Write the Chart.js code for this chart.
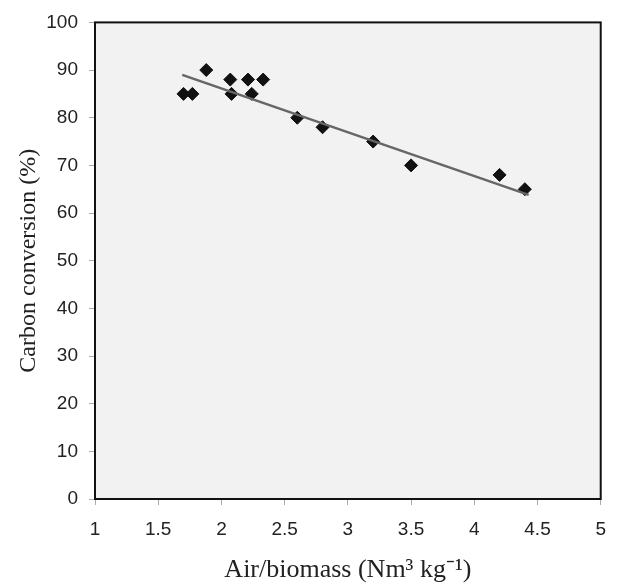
<!DOCTYPE html>
<html>
<head>
<meta charset="utf-8">
<script src="https://cdn.jsdelivr.net/npm/chart.js@4"></script>
<style>
  html, body { margin: 0; padding: 0; background: #ffffff; }
  canvas { display: block; }
</style>
</head>
<body>
<canvas id="c" width="619" height="585"></canvas>
<script>
// Data
const airBiomass = [1.7, 1.77, 1.88, 2.07, 2.08, 2.21, 2.24, 2.33, 2.6, 2.8, 3.2, 3.5, 4.2, 4.4];
const carbonConversion = [85, 85, 90, 88, 85, 88, 85, 88, 80, 78, 75, 70, 68, 65];
const trendX = [1.69, 4.43];
const trendY = [89, 63.8];
const xTicks = [1, 1.5, 2, 2.5, 3, 3.5, 4, 4.5, 5];
const yTicks = [0, 10, 20, 30, 40, 50, 60, 70, 80, 90, 100];

const points = airBiomass.map((x, i) => ({ x: x, y: carbonConversion[i] }));
const trend = trendX.map((x, i) => ({ x: x, y: trendY[i] }));

const framePlugin = {
  id: 'frame',
  beforeDatasetsDraw(chart) {
    const { ctx, chartArea: a } = chart;
    ctx.save();
    ctx.fillStyle = '#f2f2f2';
    ctx.fillRect(a.left, a.top, a.right - a.left, a.bottom - a.top);
    ctx.restore();
  },
  afterDatasetsDraw(chart) {
    const { ctx, chartArea: a } = chart;
    ctx.save();
    ctx.strokeStyle = '#111111';
    ctx.lineWidth = 2;
    ctx.strokeRect(a.left, a.top, a.right - a.left, a.bottom - a.top);
    ctx.restore();
  }
};

new Chart(document.getElementById('c'), {
  type: 'scatter',
  data: {
    datasets: [
      {
        type: 'line',
        data: trend,
        borderColor: '#666666',
        borderWidth: 2.5,
        pointRadius: 0,
        fill: false,
        tension: 0
      },
      {
        data: points,
        pointStyle: 'rectRot',
        pointRadius: 6.5,
        pointHoverRadius: 6.5,
        backgroundColor: '#111111',
        borderColor: '#111111',
        borderWidth: 1
      }
    ]
  },
  options: {
    responsive: false,
    animation: false,
    events: [],
    layout: { padding: { left: 0, top: 17, right: 14, bottom: 0 } },
    plugins: { legend: { display: false }, tooltip: { enabled: false } },
    scales: {
      x: {
        type: 'linear',
        min: 1,
        max: 5,
        afterBuildTicks(s) { s.ticks = xTicks.map(v => ({ value: v })); },
        afterFit(s) { s.height = 86; },
        border: { display: false },
        grid: { drawOnChartArea: false, drawTicks: true, tickLength: 6, tickColor: '#aaaaaa', lineWidth: 1 },
        ticks: {
          color: '#222222',
          padding: 13,
          maxRotation: 0,
          callback: (v) => String(v),
          font: { family: '"Liberation Sans", Arial, sans-serif', size: 19 }
        },
        title: {
          display: true,
          text: 'Air/biomass (Nm³ kg⁻¹)',
          color: '#222222',
          padding: { top: 0, bottom: 2 },
          font: { family: '"Liberation Serif", "Times New Roman", serif', size: 26, lineHeight: 1 }
        }
      },
      y: {
        type: 'linear',
        min: 0,
        max: 100,
        afterBuildTicks(s) { s.ticks = yTicks.map(v => ({ value: v })); },
        afterFit(s) { s.width = 95; },
        border: { display: false },
        grid: { drawOnChartArea: false, drawTicks: true, tickLength: 6, tickColor: '#aaaaaa', lineWidth: 1 },
        ticks: {
          color: '#222222',
          padding: 11,
          callback: (v) => String(v),
          font: { family: '"Liberation Sans", Arial, sans-serif', size: 19 }
        },
        title: {
          display: true,
          text: 'Carbon conversion (%)',
          color: '#222222',
          padding: { top: 17, bottom: 0 },
          font: { family: '"Liberation Serif", "Times New Roman", serif', size: 24, lineHeight: 1 }
        }
      }
    }
  },
  plugins: [framePlugin]
});
</script>
</body>
</html>
